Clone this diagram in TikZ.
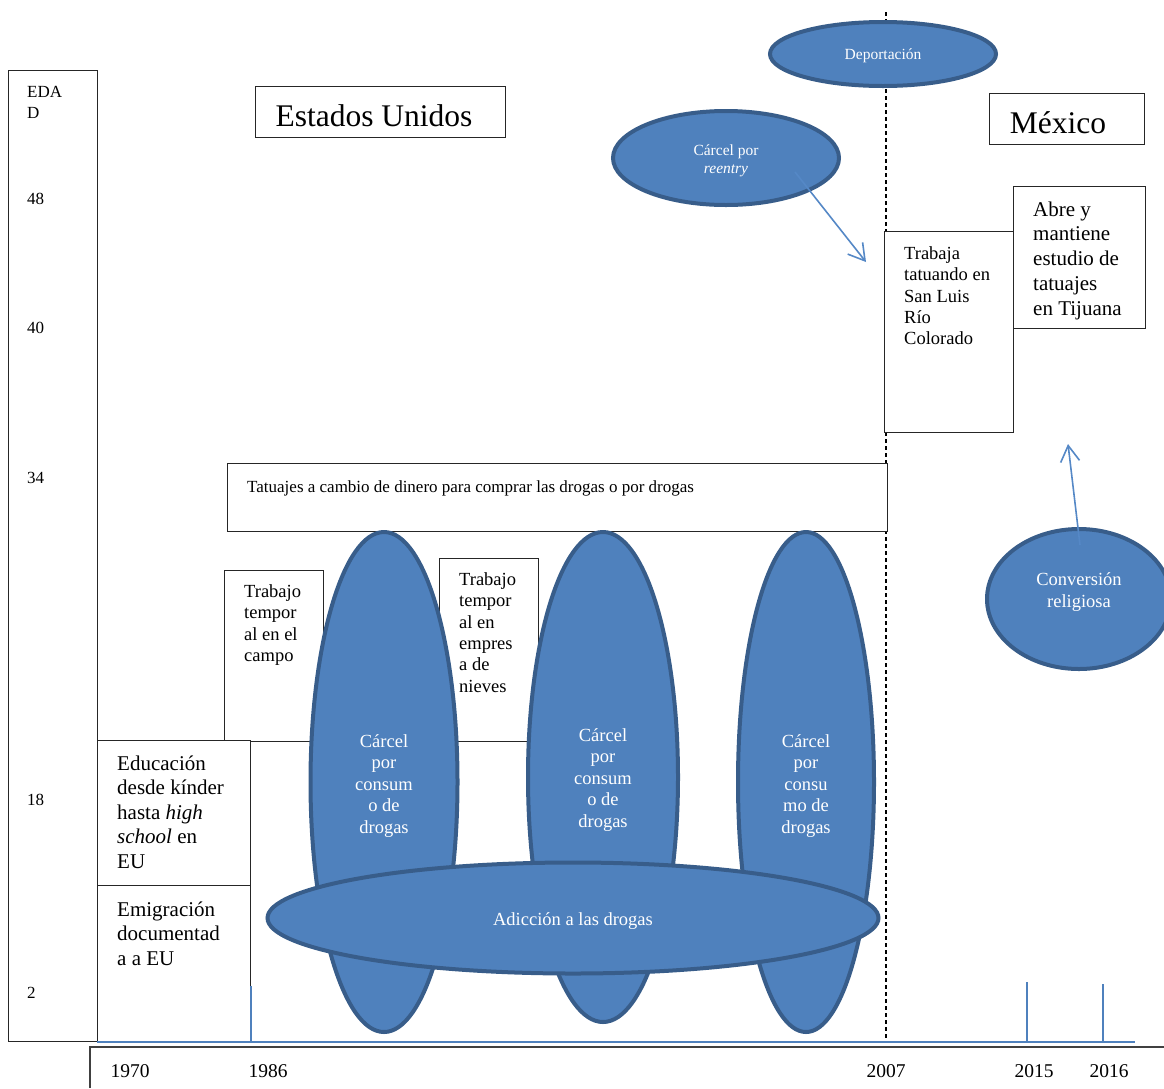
\documentclass[tikz,border=0pt]{standalone}
\usepackage{fontspec}
\setmainfont{Liberation Serif}
\usetikzlibrary{shapes.geometric,arrows.meta}
\definecolor{blobfill}{HTML}{4F81BD}
\definecolor{blobline}{HTML}{385D8A}
\definecolor{linkblue}{HTML}{5588C6}
\newcommand\fsz[2]{\fontsize{#1}{#2}\selectfont}

\begin{document}
\begin{tikzpicture}[x=1pt,y=-1pt,
  box/.style={draw=black!85,line width=1.2pt,fill=white,inner sep=0pt,anchor=north west},
  txt/.style={inner sep=0pt,anchor=north west,align=left,text=black},
  agelbl/.style={inner sep=0pt,anchor=west,font=\fsz{17}{20}},
  yearlbl/.style={inner sep=0pt,anchor=center,font=\fsz{19.5}{22}},
  blob/.style={ellipse,draw=blobline,line width=4pt,fill=blobfill,inner sep=0pt},
  blobtxt/.style={inner sep=0pt,text=white,align=center},
  link/.style={draw=linkblue,line width=1.6pt,-{Straight Barb[length=16pt,width=19pt,line width=1.6pt]}},
  ]
\useasboundingbox (0,0) rectangle (1164,1088);
\clip (0,0) rectangle (1164,1088);

% border between the two countries
\coordinate (bordertop) at (886,12);
\coordinate (borderbot) at (886,1041);
\draw[black,line width=1.4pt,dash pattern=on 4pt off 3pt] (bordertop) -- (borderbot);

% age column
\node[box,fill=none,minimum width=89pt,minimum height=971pt] (agecol) at (8,70) {};
\node[txt,font=\fsz{17}{21}] (edad) at (27,86) {EDA\\D};
\node[agelbl] (a48) at (27,199) {48};
\node[agelbl] (a40) at (27,328) {40};
\node[agelbl] (a34) at (27,478) {34};
\node[agelbl] (a18) at (27,800) {18};
\node[agelbl] (a2)  at (27,993) {2};

% country titles
\node[box,minimum width=250pt,minimum height=51pt] (eubox) at (255,86) {};
\node[inner sep=0pt,font=\fsz{31.5}{34}] (eu) at (374,116) {Estados Unidos};
\node[box,minimum width=155pt,minimum height=51pt] (mxbox) at (989,93) {};
\node[inner sep=0pt,font=\fsz{31.5}{34}] (mx) at (1058,123) {México};

% top events
\node[blob,minimum width=226pt,minimum height=64pt] (deport) at (883,54) {};
\node[blobtxt,font=\fsz{15.5}{18}] (deporttxt) at ([yshift=-2pt]deport.center) {Deportación};
\node[blob,minimum width=226pt,minimum height=94pt] (reentry) at (726,158) {};
\node[blobtxt,font=\fsz{15.5}{18}] (reentrytxt) at ([yshift=-3pt]reentry.center) {Cárcel por\\\textit{reentry}};

% work in Mexico
\node[box,minimum width=129pt,minimum height=201pt] (slrc) at (884,231) {};
\node[txt,font=\fsz{18.5}{21.3}] (slrctxt) at (904,246.5) {Trabaja\\tatuando en\\San Luis\\Río\\Colorado};
\node[box,minimum width=132pt,minimum height=142pt] (tij) at (1013,186) {};
\node[txt,font=\fsz{21}{24.7}] (tijtxt) at (1033,201.5) {Abre y\\mantiene\\estudio de\\tatuajes\\en Tijuana};

% tattoos in exchange for drugs
\node[box,minimum width=660pt,minimum height=68pt] (tatu) at (227,463) {};
\node[inner sep=0pt,anchor=base west,font=\fsz{17}{20}] (tatutxt) at (247,492) {Tatuajes a cambio de dinero para comprar las drogas o por drogas};

% temporary jobs
\node[box,minimum width=99pt,minimum height=171pt] (campo) at (224,570) {};
\node[txt,font=\fsz{18.5}{21.3}] (campotxt) at (244,584.5) {Trabajo\\tempor\\al en el\\campo};
\node[box,minimum width=99pt,minimum height=183pt] (nieves) at (439,558) {};
\node[txt,font=\fsz{18.5}{21.3}] (nievestxt) at (459,572.5) {Trabajo\\tempor\\al en\\empres\\a de\\nieves};

% schooling and emigration
\node[box,minimum width=153pt,minimum height=145pt] (educ) at (97,740) {};
\node[txt,font=\fsz{21}{24.5}] (eductxt) at (117,755.5) {Educación\\desde kínder\\hasta \textit{high}\\\textit{school} en\\EU};
\node[box,minimum width=153pt,minimum height=156pt] (emig) at (97,885) {};
\node[txt,font=\fsz{21}{24.5}] (emigtxt) at (117,901.5) {Emigración\\documentad\\a a EU};

% prison terms
\node[blob,minimum width=147pt,minimum height=500pt] (jail1) at (384,782) {};
\node[blob,minimum width=150pt,minimum height=490pt] (jail2) at (603,777) {};
\node[blob,minimum width=136pt,minimum height=500pt] (jail3) at (806,782) {};
\node[blobtxt,font=\fsz{18.5}{21.5}] (jail1txt) at ([yshift=-4pt]jail1.center) {Cárcel\\por\\consum\\o de\\drogas};
\node[blobtxt,font=\fsz{18.5}{21.5}] (jail2txt) at ([yshift=-3pt]jail2.center) {Cárcel\\por\\consum\\o de\\drogas};
\node[blobtxt,font=\fsz{18.5}{21.5}] (jail3txt) at ([yshift=-4pt]jail3.center) {Cárcel\\por\\consu\\mo de\\drogas};

% addiction
\node[blob,minimum width=611pt,minimum height=111pt] (adic) at (573,918) {};
\node[blobtxt,font=\fsz{18.5}{21.5}] (adictxt) at ([yshift=-3pt]adic.center) {Adicción a las drogas};

% religious conversion
\node[blob,minimum width=184pt,minimum height=140pt] (conv) at (1079,599) {};
\node[blobtxt,font=\fsz{18.5}{22}] (convtxt) at (1079,592) {Conversión\\religiosa};

% connectors
\coordinate (reentryfrom) at (795,172);
\coordinate (reentryto) at (866,262);
\draw[link] (reentryfrom) -- (reentryto);
\coordinate (convfrom) at (1080,545);
\coordinate (convto) at (1068,444);
\draw[link] (convfrom) -- (convto);

% time axis
\coordinate (axisL) at (97,1042);
\coordinate (axisR) at (1135,1042);
\draw[blobfill,line width=2.5pt] (axisL) -- (axisR);
\coordinate (t86) at (251,986);
\coordinate (t15) at (1027,982);
\coordinate (t16) at (1103,984);
\draw[blobfill,line width=1.5pt] (t86) -- (t86 |- axisL);
\draw[blobfill,line width=1.5pt] (t15) -- (t15 |- axisL);
\draw[blobfill,line width=1.5pt] (t16) -- (t16 |- axisL);

% year strip
\draw[black!75,line width=1.5pt] (90,1088) -- (90,1047) -- (1164,1047);
\node[yearlbl] (y70) at (130,1071) {1970};
\node[yearlbl] (y86) at (268,1071) {1986};
\node[yearlbl] (y07) at (886,1071) {2007};
\node[yearlbl] (y15) at (1034,1071) {2015};
\node[yearlbl] (y16) at (1109,1071) {2016};
\end{tikzpicture}
\end{document}
